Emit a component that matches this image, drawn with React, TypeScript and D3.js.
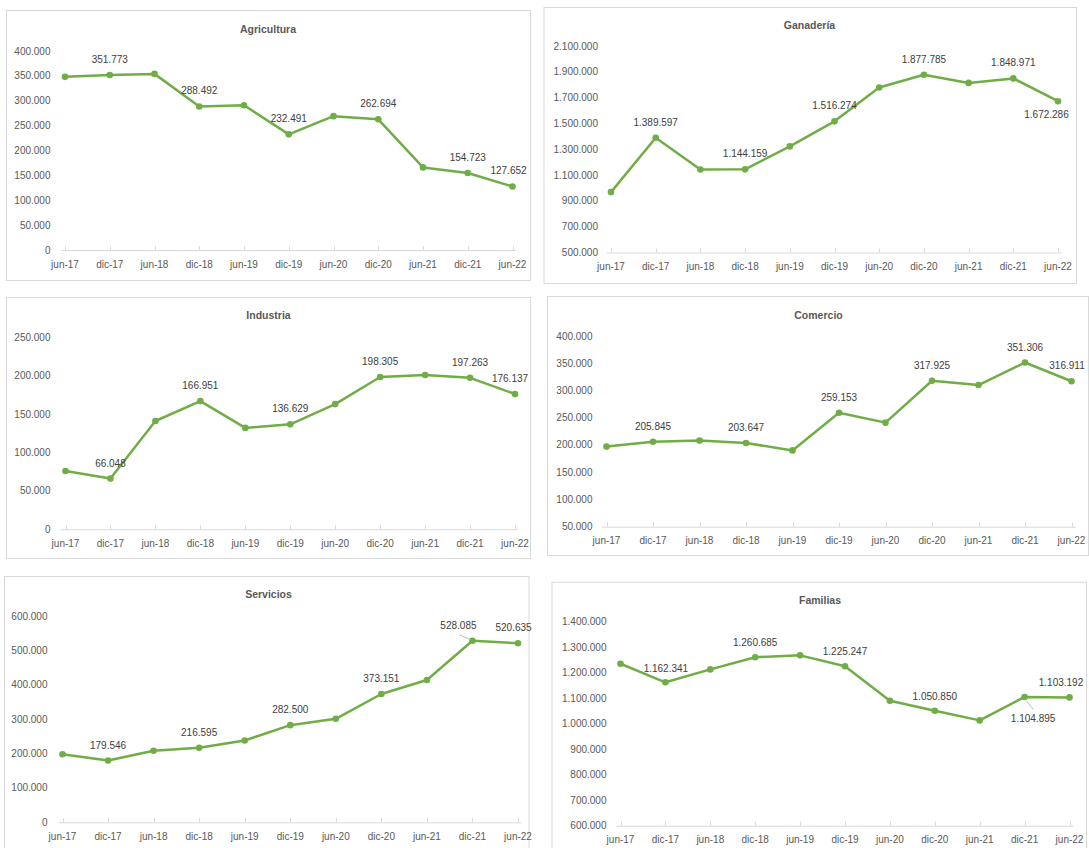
import React from 'react';
import * as d3 from 'd3';

// categories (semesters)
const categories = ['jun-17', 'dic-17', 'jun-18', 'dic-18', 'jun-19', 'dic-19', 'jun-20', 'dic-20', 'jun-21', 'dic-21', 'jun-22'];

// series values
const agricultura = [348000, 351773, 354000, 288492, 291000, 232491, 269000, 262694, 166000, 154723, 127652];
const ganaderia = [968000, 1389597, 1143000, 1144159, 1322000, 1516274, 1778000, 1877785, 1814000, 1848971, 1672286];
const industria = [76000, 66048, 141000, 166951, 132000, 136629, 163000, 198305, 201000, 197263, 176137];
const comercio = [197000, 205845, 208000, 203647, 190000, 259153, 241000, 317925, 310000, 351306, 316911];
const servicios = [198000, 179546, 208000, 216595, 238000, 282500, 301000, 373151, 414000, 528085, 520635];
const familias = [1235000, 1162341, 1213000, 1260685, 1268000, 1225247, 1090000, 1050850, 1013000, 1104895, 1103192];

// y tick values
const agriTicks = [0, 50000, 100000, 150000, 200000, 250000, 300000, 350000, 400000];
const ganaTicks = [500000, 700000, 900000, 1100000, 1300000, 1500000, 1700000, 1900000, 2100000];
const induTicks = [0, 50000, 100000, 150000, 200000, 250000];
const comeTicks = [50000, 100000, 150000, 200000, 250000, 300000, 350000, 400000];
const servTicks = [0, 100000, 200000, 300000, 400000, 500000, 600000];
const famiTicks = [600000, 700000, 800000, 900000, 1000000, 1100000, 1200000, 1300000, 1400000];

const GREEN = '#70AD47';
const FONT = '"Liberation Sans", Arial, sans-serif';

const fmt = d3.formatLocale({ decimal: ',', thousands: '.', grouping: [3], currency: ['', ''] }).format(',d');

interface Label {
    i: number;
    dx: number;
    dy: number;
    leader?: [number, number, number, number];
}

interface PanelCfg {
    title: string;
    values: number[];
    ticks: number[];
    box: [number, number, number, number]; // x0, y0, x1, y1
    titleX: number;
    titleY: number;
    yLabelX: number;
    yTop: number;
    yBottom: number;
    axisX0: number;
    axisX1: number;
    px0: number;
    px1: number;
    labels: Label[];
}

const up = (i: number, dx = 0, dy = -15.5): Label => ({ i, dx, dy });

const panels: PanelCfg[] = [
    {
        title: 'Agricultura', values: agricultura, ticks: agriTicks,
        box: [6, 10, 530, 280], titleX: 268, titleY: 29, yLabelX: 50.5,
        yTop: 51, yBottom: 250, axisX0: 61, axisX1: 516, px0: 65, px1: 512.5,
        labels: [up(1), up(3), up(5), up(7), up(9), up(10, -4)],
    },
    {
        title: 'Ganadería', values: ganaderia, ticks: ganaTicks,
        box: [543.5, 7, 1076, 283], titleX: 809.5, titleY: 25, yLabelX: 598,
        yTop: 46, yBottom: 252.5, axisX0: 607, axisX1: 1062, px0: 611, px1: 1058,
        labels: [up(1), up(3), up(5), up(7), up(9), { i: 10, dx: -11.5, dy: 13 }],
    },
    {
        title: 'Industria', values: industria, ticks: induTicks,
        box: [6, 297, 530, 558], titleX: 268.5, titleY: 315, yLabelX: 50.5,
        yTop: 337.3, yBottom: 529.3, axisX0: 61, axisX1: 518, px0: 65.5, px1: 515,
        labels: [up(1), up(3), up(5), up(7), up(9), up(10, -5)],
    },
    {
        title: 'Comercio', values: comercio, ticks: comeTicks,
        box: [547, 296, 1088, 555], titleX: 818.5, titleY: 315, yLabelX: 592.5,
        yTop: 336, yBottom: 526.7, axisX0: 602, axisX1: 1076, px0: 606.5, px1: 1071.5,
        labels: [up(1), up(3), up(5), up(7), up(9), up(10, -4.5)],
    },
    {
        title: 'Servicios', values: servicios, ticks: servTicks,
        box: [4, 576, 528.5, 860], titleX: 268.5, titleY: 594, yLabelX: 47.5,
        yTop: 616, yBottom: 822.3, axisX0: 59, axisX1: 521.5, px0: 62.5, px1: 518,
        labels: [up(1), up(3), up(5), up(7), { i: 9, dx: -14, dy: -15.3, leader: [-13.5, -6, -1.5, -1] }, up(10, -4.5)],
    },
    {
        title: 'Familias', values: familias, ticks: famiTicks,
        box: [551.5, 581.7, 1086, 860], titleX: 820, titleY: 600, yLabelX: 606.5,
        yTop: 621.7, yBottom: 825.7, axisX0: 616, axisX1: 1073, px0: 620.5, px1: 1069.5,
        labels: [up(1, 0.5, -14), up(3, 0, -14.5), up(5, 0, -14.5), up(7, 0, -14.5),
            { i: 9, dx: 8.5, dy: 21.5, leader: [1.8, 4, 8.8, 12.6] }, up(10, -8.5, -14.5)],
    },
];

const Panel: React.FC<{ cfg: PanelCfg }> = ({ cfg }) => {
    const x = d3.scalePoint<string>().domain(categories).range([cfg.px0, cfg.px1]);
    const y = d3.scaleLinear()
        .domain([cfg.ticks[0], cfg.ticks[cfg.ticks.length - 1]])
        .range([cfg.yBottom, cfg.yTop]);

    const line = d3.line<number>()
        .x((_, i) => x(categories[i]) as number)
        .y(d => y(d));

    const [bx0, by0, bx1, by1] = cfg.box;

    return (
        <g>
            <rect x={bx0 + 0.5} y={by0 + 0.5} width={bx1 - bx0} height={by1 - by0}
                fill="#fff" stroke="#D9D9D9" strokeWidth={1} />
            <text x={cfg.titleX} y={cfg.titleY} textAnchor="middle" dominantBaseline="central"
                fontFamily={FONT} fontSize={10.5} fontWeight="bold" fill="#595959">
                {cfg.title}
            </text>

            {/* y axis labels */}
            {cfg.ticks.map(t => (
                <text key={t} x={cfg.yLabelX} y={y(t)} textAnchor="end" dominantBaseline="central"
                    fontFamily={FONT} fontSize={10} fill="#595959">
                    {fmt(t)}
                </text>
            ))}

            {/* x axis */}
            <line x1={cfg.axisX0} x2={cfg.axisX1} y1={cfg.yBottom + 0.5} y2={cfg.yBottom + 0.5}
                stroke="#D9D9D9" strokeWidth={1} />
            {categories.map(c => (
                <g key={c}>
                    <line x1={Math.round(x(c) as number) + 0.5} x2={Math.round(x(c) as number) + 0.5}
                        y1={cfg.yBottom} y2={cfg.yBottom - 4} stroke="#D9D9D9" strokeWidth={1} />
                    <text x={x(c)} y={cfg.yBottom + 14} textAnchor="middle" dominantBaseline="central"
                        fontFamily={FONT} fontSize={10} fill="#595959">
                        {c}
                    </text>
                </g>
            ))}

            {/* series */}
            <path d={line(cfg.values) as string} fill="none" stroke={GREEN} strokeWidth={2.5}
                strokeLinejoin="round" strokeLinecap="round" />
            {cfg.values.map((v, i) => (
                <circle key={i} cx={x(categories[i])} cy={y(v)} r={3.3} fill={GREEN} />
            ))}

            {/* data labels */}
            {cfg.labels.map(l => {
                const px = x(categories[l.i]) as number;
                const py = y(cfg.values[l.i]);
                return (
                    <g key={l.i}>
                        {l.leader && (
                            <line x1={px + l.leader[0]} y1={py + l.leader[1]} x2={px + l.leader[2]} y2={py + l.leader[3]}
                                stroke="#A6A6A6" strokeWidth={0.75} />
                        )}
                        <text x={px + l.dx} y={py + l.dy} textAnchor="middle" dominantBaseline="central"
                            fontFamily={FONT} fontSize={10} fill="#404040">
                            {fmt(cfg.values[l.i])}
                        </text>
                    </g>
                );
            })}
        </g>
    );
};

export default function App() {
    return (
        <svg width={1089} height={848} viewBox="0 0 1089 848"
            style={{ position: 'absolute', left: 0, top: 0, background: '#fff', display: 'block' }}>
            <rect width={1089} height={848} fill="#fff" />
            {panels.map(p => <Panel key={p.title} cfg={p} />)}
        </svg>
    );
}
